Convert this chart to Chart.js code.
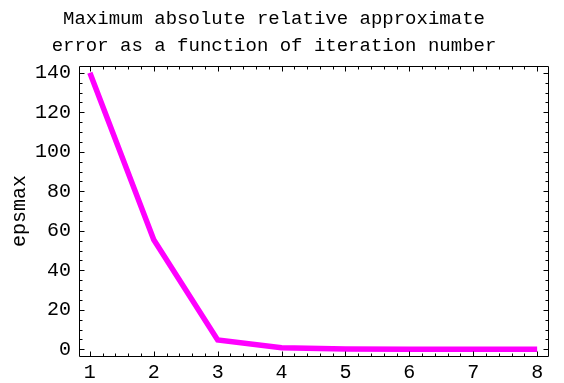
<!DOCTYPE html>
<html>
<head>
<meta charset="utf-8">
<script src="https://cdn.jsdelivr.net/npm/chart.js@4/dist/chart.umd.min.js"></script>
<style>
  html, body { margin: 0; padding: 0; background: #fff; }
  #wrap { width: 564px; height: 383px; }
</style>
</head>
<body>
<div id="wrap"><canvas id="c" width="564" height="383"></canvas></div>
<script>
// Data
const iterations = [1, 2, 3, 4, 5, 6, 7, 8];
const epsmax = [140, 55.5, 4.7, 0.8, 0.15, 0.03, 0.006, 0.001];
const xMajorTicks = [1, 2, 3, 4, 5, 6, 7, 8];
const yMajorTicks = [0, 20, 40, 60, 80, 100, 120, 140];
const titleLines = ['Maximum absolute relative approximate', 'error as a function of iteration number'];
const yTitle = 'epsmax';

const MONO = "'Liberation Mono', 'DejaVu Sans Mono', monospace";

function range(a, b, step) {
  const out = [];
  for (let v = a; v <= b + 1e-9; v += step) out.push(Math.round(v * 1000) / 1000);
  return out;
}
const xMinorTicks = range(0.8, 8.2, 0.2);
const yMinorTicks = range(0, 145, 5);

const framePlugin = {
  id: 'frame',
  afterDraw(chart) {
    const { ctx, chartArea: a, scales } = chart;
    const xs = scales.x, ys = scales.y;
    ctx.save();
    ctx.strokeStyle = '#000';
    ctx.lineWidth = 1;
    ctx.beginPath();
    ctx.rect(Math.round(a.left) + 0.5, Math.round(a.top) + 0.5,
             Math.round(a.right - a.left), Math.round(a.bottom - a.top));
    ctx.stroke();
    ctx.beginPath();
    const L = Math.round(a.left) + 0.5, R = Math.round(a.right) + 0.5;
    const T = Math.round(a.top) + 0.5, B = Math.round(a.bottom) + 0.5;
    xMinorTicks.forEach(v => {
      if (v < xs.min || v > xs.max) return;
      const major = xMajorTicks.some(m => Math.abs(m - v) < 1e-6);
      const len = major ? 5 : 3;
      const px = Math.round(xs.getPixelForValue(v)) + 0.5;
      ctx.moveTo(px, B); ctx.lineTo(px, B - len);
      ctx.moveTo(px, T); ctx.lineTo(px, T + len);
    });
    yMinorTicks.forEach(v => {
      if (v < ys.min || v > ys.max) return;
      const major = yMajorTicks.some(m => Math.abs(m - v) < 1e-6);
      const len = major ? 5 : 3;
      const py = Math.round(ys.getPixelForValue(v)) + 0.5;
      ctx.moveTo(L, py); ctx.lineTo(L + len, py);
      ctx.moveTo(R, py); ctx.lineTo(R - len, py);
    });
    ctx.stroke();
    ctx.restore();
  }
};

new Chart(document.getElementById('c'), {
  type: 'line',
  data: {
    datasets: [{
      data: iterations.map((x, i) => ({ x: x, y: epsmax[i] })),
      borderColor: '#ff00ff',
      borderWidth: 5.5,
      pointRadius: 0,
      tension: 0,
      fill: false,
      clip: false
    }]
  },
  options: {
    responsive: false,
    animation: false,
    devicePixelRatio: 1,
    layout: { padding: { left: 0, right: 16, top: 0, bottom: 0 } },
    plugins: {
      legend: { display: false },
      tooltip: { enabled: false },
      title: {
        display: true,
        text: titleLines,
        color: '#000',
        font: { family: MONO, size: 19, weight: 'normal', lineHeight: 1.45 },
        padding: { top: 5, bottom: 6 }
      }
    },
    scales: {
      x: {
        type: 'linear',
        min: 0.83,
        max: 8.17,
        afterBuildTicks(s) { s.ticks = xMajorTicks.map(v => ({ value: v })); },
        afterFit(s) { s.height = 27; },
        grid: { display: false, drawTicks: false },
        border: { display: false },
        ticks: {
          color: '#000',
          padding: 5,
          maxRotation: 0,
          font: { family: MONO, size: 20 },
          callback: v => String(v)
        }
      },
      y: {
        type: 'linear',
        min: -3.4,
        max: 143.4,
        afterBuildTicks(s) { s.ticks = yMajorTicks.map(v => ({ value: v })); },
        afterFit(s) { s.width = 79; },
        grid: { display: false, drawTicks: false },
        border: { display: false },
        title: {
          display: true,
          text: yTitle,
          color: '#000',
          font: { family: MONO, size: 20 },
          padding: { top: 8, bottom: 6 }
        },
        ticks: {
          color: '#000',
          padding: 8,
          font: { family: MONO, size: 20 },
          callback: v => String(v)
        }
      }
    }
  },
  plugins: [framePlugin]
});
</script>
</body>
</html>
